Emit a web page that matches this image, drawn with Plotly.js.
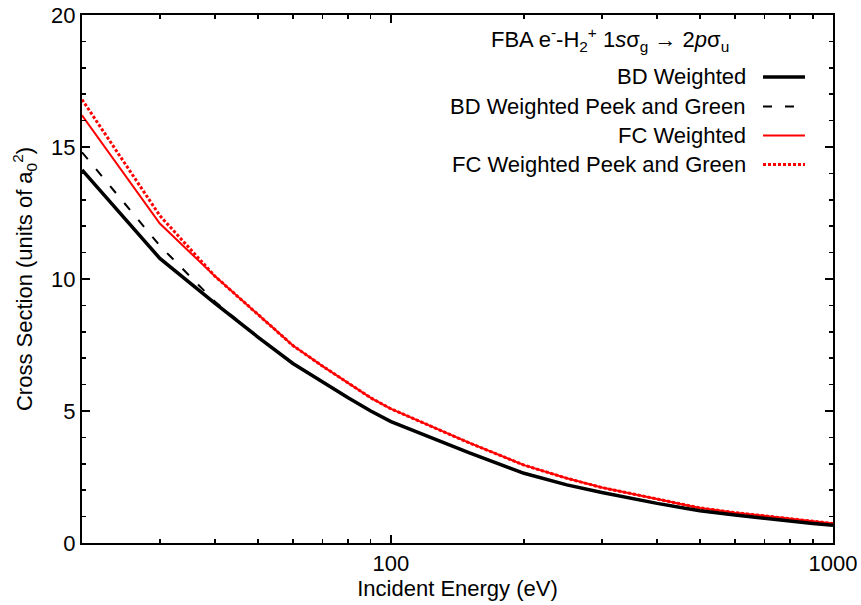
<!DOCTYPE html>
<html>
<head>
<meta charset="utf-8">
<script src="https://cdn.plot.ly/plotly-3.0.1.min.js"></script>
<style>html,body{margin:0;padding:0;background:#fff;}#chart{width:861px;height:605px;}</style>
</head>
<body>
<div id="chart"></div>
<script>
// Incident energy (eV)
const energy = [20, 30, 40, 50, 60, 70, 80, 90, 100, 150, 200, 250, 300, 400, 500, 600, 700, 800, 900, 1000];
// Cross sections (units of a0^2)
const bdWeighted   = [14.13, 10.78, 9.08, 7.8, 6.8, 6.1, 5.5, 5.0, 4.6, 3.42, 2.64, 2.2, 1.91, 1.5, 1.22, 1.06, 0.93, 0.83, 0.74, 0.67];
const bdWeightedPG = [14.8, 11.26, 9.14, 7.8, 6.8, 6.1, 5.5, 5.0, 4.6, 3.42, 2.64, 2.2, 1.91, 1.5, 1.22, 1.06, 0.93, 0.83, 0.74, 0.67];
const fcWeighted   = [16.2, 12.1, 10.1, 8.65, 7.48, 6.7, 6.05, 5.5, 5.08, 3.8, 2.95, 2.45, 2.1, 1.65, 1.33, 1.15, 1.02, 0.9, 0.82, 0.74];
const fcWeightedPG = [16.8, 12.4, 10.1, 8.65, 7.48, 6.7, 6.05, 5.5, 5.08, 3.8, 2.95, 2.45, 2.1, 1.65, 1.33, 1.15, 1.02, 0.9, 0.82, 0.74];
const seriesNames = ["BD Weighted", "BD Weighted Peek and Green", "FC Weighted", "FC Weighted Peek and Green"];
const titleText = "FBA e<sup>-</sup>-H<sub>2</sub><sup>+</sup> 1<i>s</i>σ<sub>g</sub> → 2<i>p</i>σ<sub>u</sub>";

const styles = [
  {color: "#000000", width: 3.5, dash: "solid"},
  {color: "#000000", width: 2, dash: "9px,13px"},
  {color: "#ff0000", width: 2, dash: "solid"},
  {color: "#ff0000", width: 3, dash: "3px,2px"}
];
const seriesData = [bdWeighted, bdWeightedPG, fcWeighted, fcWeightedPG];
const drawOrder = [3, 2, 1, 0];

const traces = drawOrder.map(i => ({
  x: energy, y: seriesData[i], type: "scatter", mode: "lines",
  name: seriesNames[i], line: styles[i], showlegend: false, hoverinfo: "skip"
}));

const font = {family: "Liberation Sans, Arial, sans-serif", size: 22, color: "#000"};
const rows = [0.8826, 0.8267, 0.7718, 0.7169];
const annotations = [{
  xref: "paper", yref: "paper", x: 0.703, y: 0.9527, xanchor: "center", yanchor: "middle",
  text: titleText, showarrow: false, font: font
}];
const shapes = [];
seriesNames.forEach((n, i) => {
  annotations.push({xref: "paper", yref: "paper", x: 0.8868, y: rows[i], xanchor: "right", yanchor: "middle",
    text: n, showarrow: false, font: font});
  shapes.push({type: "line", xref: "paper", yref: "paper", x0: 0.9068, x1: 0.9627, y0: rows[i], y1: rows[i],
    line: styles[i]});
});

const layout = {
  width: 861, height: 605,
  margin: {l: 82, r: 28, t: 15, b: 62},
  paper_bgcolor: "#fff", plot_bgcolor: "#fff",
  font: font,
  showlegend: false,
  xaxis: {
    type: "log", range: [Math.log10(20), 3],
    tickvals: [100, 1000], ticktext: ["100", "1000"],
    ticks: "inside", ticklen: 8, tickwidth: 1.5, tickcolor: "#000",
    minor: {tickvals: [30,40,50,60,70,80,90,200,300,400,500,600,700,800,900], ticks: "inside", ticklen: 4, tickwidth: 1.5, tickcolor: "#000", showgrid: false},
    showline: true, linecolor: "#000", linewidth: 2, mirror: "allticks",
    showgrid: false, zeroline: false,
    title: {text: "Incident Energy (eV)", font: font, standoff: 3},
    tickfont: font
  },
  yaxis: {
    range: [0, 20], tickvals: [0, 5, 10, 15, 20],
    ticks: "inside", ticklen: 8, tickwidth: 1.5, tickcolor: "#000",
    minor: {dtick: 1, ticks: "inside", ticklen: 4, tickwidth: 1.5, tickcolor: "#000", showgrid: false},
    showline: true, linecolor: "#000", linewidth: 2, mirror: "allticks",
    showgrid: false, zeroline: false,
    title: {text: "Cross Section (units of a<sub>0</sub><sup>2</sup>)", font: font, standoff: 12},
    tickfont: font
  },
  annotations: annotations,
  shapes: shapes
};

Plotly.newPlot("chart", traces, layout, {displayModeBar: false, staticPlot: true});
</script>
</body>
</html>
